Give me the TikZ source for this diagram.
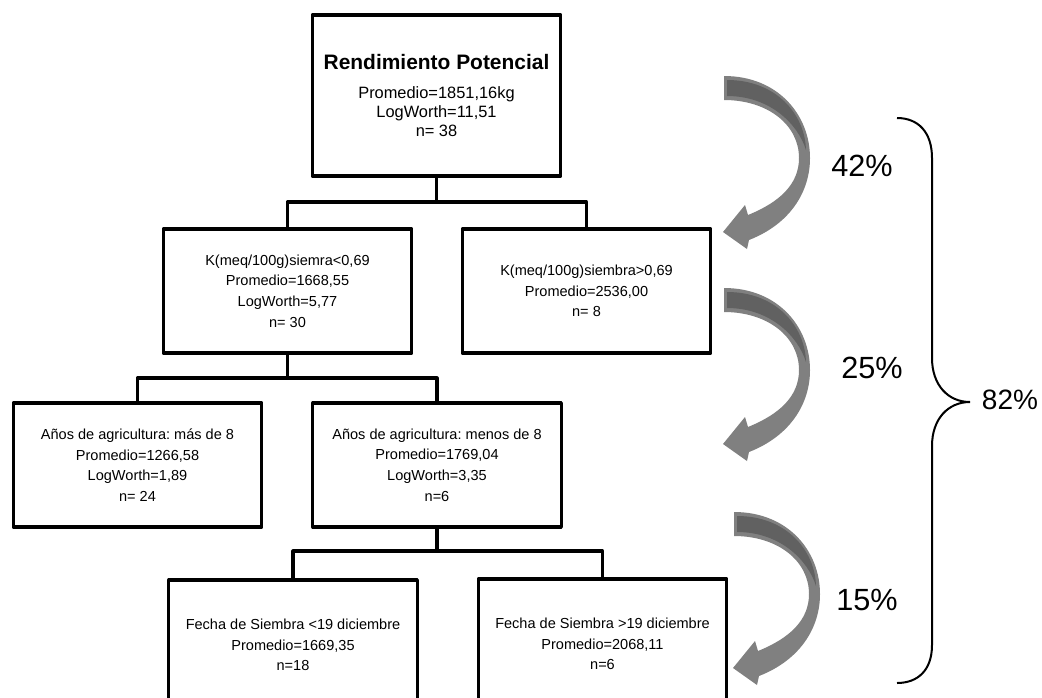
\documentclass[tikz,border=0pt]{standalone}
\usepackage{fontspec}
\setmainfont{Liberation Sans}
\frenchspacing
\definecolor{arrowgray}{HTML}{808080}
\definecolor{arrowdark}{HTML}{616161}
\tikzset{
  treebox/.style={draw=black, line width=2.3pt, line join=round, fill=white, align=center, inner sep=0pt, minimum width=186.5pt},
  conn/.style={draw=black, line width=2.3pt, line join=round},
  txt/.style={font=\fontsize{10.9}{15.4}\selectfont},
  pct/.style={font=\fontsize{23}{26}\selectfont, inner sep=0pt},
  bracestyle/.style={draw=black, line width=1.5pt},
  curvedarrow/.pic={
    \fill[arrowgray] (724,76) .. controls (778,76) and (810,115) .. (810,158)
      .. controls (810,192) and (790,224) .. (749,240) -- (747,249) -- (723,232) -- (745,205) -- (748,215)
      .. controls (780,202) and (799,184) .. (799,158)
      .. controls (799,125) and (768,100) .. (724,100) -- cycle;
    \fill[arrowdark] (727,80) .. controls (776,80) and (805,114) .. (806,150)
      .. controls (798,124) and (770,96) .. (727,96) -- cycle;
  }
}
\begin{document}
\begin{tikzpicture}[x=0.75pt, y=-0.75pt]
\clip (0,0) rectangle (1042,697);
\fill[white] (0,0) rectangle (1042,697);

% junction coordinates
\coordinate (j0) at (436.5,202);
\coordinate (j1) at (287.5,378);
\coordinate (j2) at (437,551);

% nodes
\node[treebox, minimum height=120.75pt, font=\fontsize{12.3}{14.25}\selectfont] (root) at (436.5,95.5)
  {{\fontsize{15.7}{18}\selectfont\bfseries Rendimiento Potencial}\\[7pt]
   Promedio=1851,16kg\\ LogWorth=11,51\\ n= 38};
\node[treebox, txt, minimum height=93pt] (k1) at (287.5,291)
  {K(meq/100g)siemra<0,69\\ Promedio=1668,55\\ LogWorth=5,77\\ n= 30};
\node[treebox, txt, minimum height=93pt] (k2) at (586.5,291)
  {K(meq/100g)siembra>0,69\\ Promedio=2536,00\\ n= 8};
\node[treebox, txt, minimum height=93pt] (a1) at (137.5,465)
  {Años de agricultura: más de 8\\ Promedio=1266,58\\ LogWorth=1,89\\ n= 24};
\node[treebox, txt, minimum height=93pt] (a2) at (437,465)
  {Años de agricultura: menos de 8\\ Promedio=1769,04\\ LogWorth=3,35\\ n=6};
\node[treebox, txt, minimum height=97.5pt] (f1) at (293,645)
  {Fecha de Siembra <19 diciembre\\ Promedio=1669,35\\ n=18};
\node[treebox, txt, minimum height=97.5pt] (f2) at (602.5,644)
  {Fecha de Siembra >19 diciembre\\ Promedio=2068,11\\ n=6};

% connectors
\draw[conn] (root.south) -- (j0);
\draw[conn] (k1.north) |- (j0) -| (k2.north);
\draw[conn] (k1.south) -- (j1);
\draw[conn] (a1.north) |- (j1) -| (a2.north);
\draw[conn] (a2.south) -- (j2);
\draw[conn] (f1.north) |- (j2) -| (f2.north);

% curved arrows
\pic at (0,0) {curvedarrow};
\pic at (0,212) {curvedarrow};
\pic at (10,436) {curvedarrow};

% percentages
\node[pct] (p42) at (862,166) {42\%};
\node[pct] (p25) at (872,368) {25\%};
\node[pct] (p15) at (867,600) {15\%};
\node[font=\fontsize{21}{24}\selectfont, inner sep=0pt] (p82) at (1010,400) {82\%};

% brace
\draw[bracestyle] (897,118) .. controls (918,118) and (932,132) .. (932,158) -- (932,358)
  .. controls (932,385) and (948,402) .. (970,402)
  .. controls (948,402) and (932,419) .. (932,446) -- (932,645)
  .. controls (932,670) and (918,683) .. (897,683);
\end{tikzpicture}
\end{document}
